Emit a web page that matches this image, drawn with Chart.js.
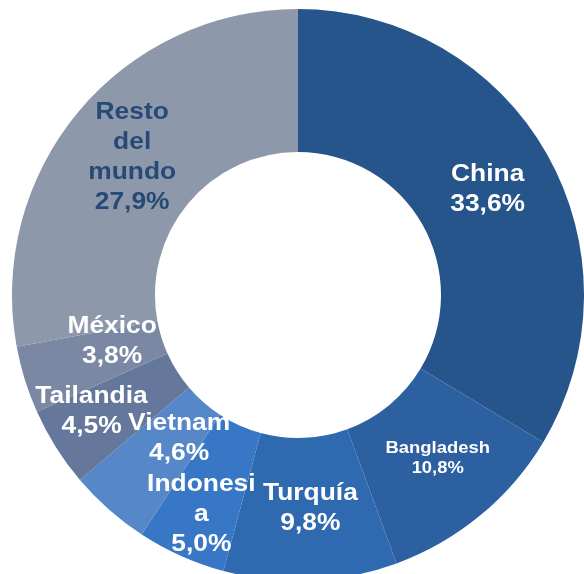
<!DOCTYPE html>
<html>
<head>
<meta charset="utf-8">
<script src="https://cdn.jsdelivr.net/npm/chart.js@4"></script>
<style>
  html, body { margin: 0; padding: 0; background: #fff; overflow: hidden; width: 584px; height: 574px; }
  #wrap { position: absolute; left: 12px; top: 9px; width: 572px; height: 572px; }
</style>
</head>
<body>
<div id="wrap"><canvas id="chart" width="572" height="572"></canvas></div>
<script>
// Share by country (%), clockwise from 12 o'clock
const labels = ['China', 'Bangladesh', 'Turquía', 'Indonesia', 'Vietnam', 'Tailandia', 'México', 'Resto del mundo'];
const values = [33.6, 10.8, 9.8, 5.0, 4.6, 4.5, 3.8, 27.9];
// how each label is broken over lines in the picture
const labelLines = [['China'], ['Bangladesh'], ['Turquía'], ['Indonesi', 'a'], ['Vietnam'], ['Tailandia'], ['México'], ['Resto', 'del', 'mundo']];
const colors = ['#26558b', '#2d60a0', '#2f69af', '#3877c5', '#5587c9', '#65779b', '#7a88a3', '#8e98ab'];

// label nudges away from the arc centroid (px)
const labelShift = [[3, 0], [3, -2], [3, -1], [-9, 24], [23, -18], [-25, 2], [19, -17], [-1, 0]];

function pct(v) {
  return v.toFixed(1).replace('.', ',') + '%';
}

const sliceLabels = {
  id: 'sliceLabels',
  afterDatasetsDraw(chart) {
    const ctx = chart.ctx;
    const meta = chart.getDatasetMeta(0);
    meta.data.forEach((arc, i) => {
      const mid = (arc.startAngle + arc.endAngle) / 2;
      const r = (arc.innerRadius + arc.outerRadius) / 2;
      const x = arc.x + Math.cos(mid) * r + labelShift[i][0];
      const y = arc.y + Math.sin(mid) * r + labelShift[i][1];
      const small = labels[i] === 'Bangladesh';
      const size = small ? 16 : 24;
      const lh = small ? 20 : 30;
      const lines = labelLines[i].concat([pct(values[i])]);
      ctx.save();
      ctx.font = 'bold ' + size + 'px "Liberation Sans", Arial, sans-serif';
      ctx.fillStyle = i === labels.length - 1 ? '#264a75' : '#ffffff';
      ctx.textAlign = 'center';
      ctx.textBaseline = 'middle';
      const top = y - (lines.length - 1) * lh / 2;
      lines.forEach((t, k) => {
        ctx.save();
        ctx.translate(x, top + k * lh);
        ctx.scale(small ? 1.15 : 1.1, 1);
        ctx.fillText(t, 0, 0);
        ctx.restore();
      });
      ctx.restore();
    });
  }
};

new Chart(document.getElementById('chart'), {
  type: 'doughnut',
  data: {
    labels: labels,
    datasets: [{
      data: values,
      backgroundColor: colors,
      borderWidth: 0
    }]
  },
  options: {
    responsive: false,
    animation: false,
    cutout: '50%',
    layout: { padding: 0 },
    plugins: {
      legend: { display: false },
      tooltip: { enabled: false }
    }
  },
  plugins: [sliceLabels]
});
</script>
</body>
</html>
